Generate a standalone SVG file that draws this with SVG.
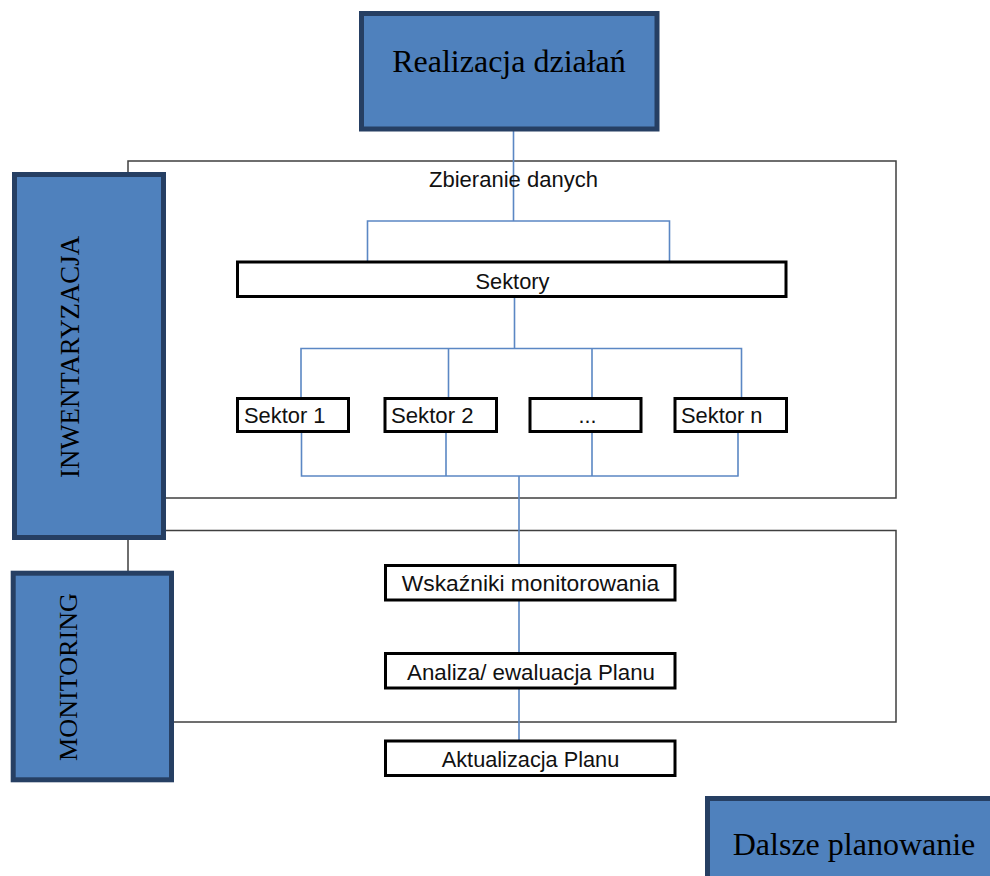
<svg xmlns="http://www.w3.org/2000/svg" width="990" height="876" viewBox="0 0 990 876">
  <style>
    .frame { fill: none; stroke: #3f3f3f; stroke-width: 1.5; }
    .phase { fill: #4f81bd; stroke: #263f63; stroke-width: 5; }
    .box { fill: #ffffff; stroke: #000000; stroke-width: 3; }
    .link { fill: none; stroke: #5b87c4; stroke-width: 1.6; }
    .serif { font-family: "Liberation Serif", "Times New Roman", serif; fill: #000000; }
    .sans { font-family: "Liberation Sans", Arial, sans-serif; font-size: 21.5px; fill: #111111; }
  </style>

  <!-- section frames -->
  <g id="frames">
    <rect class="frame" x="128" y="161" width="768" height="337"/>
    <rect class="frame" x="128" y="530.5" width="768" height="191.5"/>
  </g>

  <!-- connectors -->
  <g id="connectors">
    <path class="link" d="M513.5 131 V221 M367.5 221 H669.5 M367.5 220.3 V261 M669.5 220.3 V261"/>
    <path class="link" d="M514.5 297 V348.5 M301 348.5 H741.5 M301 347.8 V398 M448.5 348.5 V398 M592 348.5 V398 M741.5 347.8 V398"/>
    <path class="link" d="M301.5 432 V476 M446 432 V476 M592 432 V476 M738 432 V476 M300.7 476 H738.7"/>
    <path class="link" d="M519 476 V565 M519 600 V653.5 M519 688.5 V741"/>
  </g>

  <g id="realizacja">
    <rect class="phase" x="361.5" y="13.5" width="295.5" height="115.5"/>
    <text class="serif" x="509" y="72" font-size="32" text-anchor="middle">Realizacja działań</text>
  </g>

  <g id="inwentaryzacja">
    <rect class="phase" x="14.5" y="174.5" width="149" height="363"/>
    <text class="serif" x="79" y="357" font-size="26.5" text-anchor="middle" transform="rotate(-90 79 357)" textLength="242" lengthAdjust="spacingAndGlyphs">INWENTARYZACJA</text>
  </g>

  <g id="monitoring">
    <rect class="phase" x="13.2" y="573.2" width="158.3" height="206.6"/>
    <text class="serif" x="77" y="677" font-size="26" text-anchor="middle" transform="rotate(-90 77 677)" textLength="168" lengthAdjust="spacingAndGlyphs">MONITORING</text>
  </g>

  <g id="zbieranie">
    <text class="sans" x="513.5" y="187" text-anchor="middle" textLength="169" lengthAdjust="spacingAndGlyphs">Zbieranie danych</text>
  </g>

  <g id="sektory">
    <rect class="box" x="237.5" y="262" width="548.5" height="34.5"/>
    <text class="sans" x="512.5" y="289" text-anchor="middle" textLength="74" lengthAdjust="spacingAndGlyphs">Sektory</text>
  </g>

  <g id="sektor-1">
    <rect class="box" x="237.5" y="398.5" width="111" height="33"/>
    <text class="sans" x="244" y="423" textLength="81.5" lengthAdjust="spacingAndGlyphs">Sektor 1</text>
  </g>

  <g id="sektor-2">
    <rect class="box" x="385" y="398.5" width="111.5" height="33"/>
    <text class="sans" x="391" y="423" textLength="82.5" lengthAdjust="spacingAndGlyphs">Sektor 2</text>
  </g>

  <g id="sektor-dots">
    <rect class="box" x="530" y="398.5" width="111" height="33"/>
    <text class="sans" x="587.5" y="423" text-anchor="middle">...</text>
  </g>

  <g id="sektor-n">
    <rect class="box" x="675" y="398.5" width="111.5" height="33"/>
    <text class="sans" x="681" y="423" textLength="81.5" lengthAdjust="spacingAndGlyphs">Sektor n</text>
  </g>

  <g id="wskazniki">
    <rect class="box" x="385.5" y="565.5" width="289.5" height="34.5"/>
    <text class="sans" x="530.5" y="590.5" text-anchor="middle" textLength="257.5" lengthAdjust="spacingAndGlyphs">Wskaźniki monitorowania</text>
  </g>

  <g id="analiza">
    <rect class="box" x="385.5" y="653.5" width="289.5" height="34.5"/>
    <text class="sans" x="531" y="679.5" text-anchor="middle" textLength="248" lengthAdjust="spacingAndGlyphs">Analiza/ ewaluacja Planu</text>
  </g>

  <g id="aktualizacja">
    <rect class="box" x="385.5" y="741" width="289.5" height="34.5"/>
    <text class="sans" x="530.5" y="767" text-anchor="middle" textLength="177.5" lengthAdjust="spacingAndGlyphs">Aktualizacja Planu</text>
  </g>

  <g id="dalsze-planowanie">
    <rect class="phase" x="707.5" y="798.5" width="295.5" height="115.5"/>
    <text class="serif" x="854" y="855" font-size="32" text-anchor="middle">Dalsze planowanie</text>
  </g>
</svg>
